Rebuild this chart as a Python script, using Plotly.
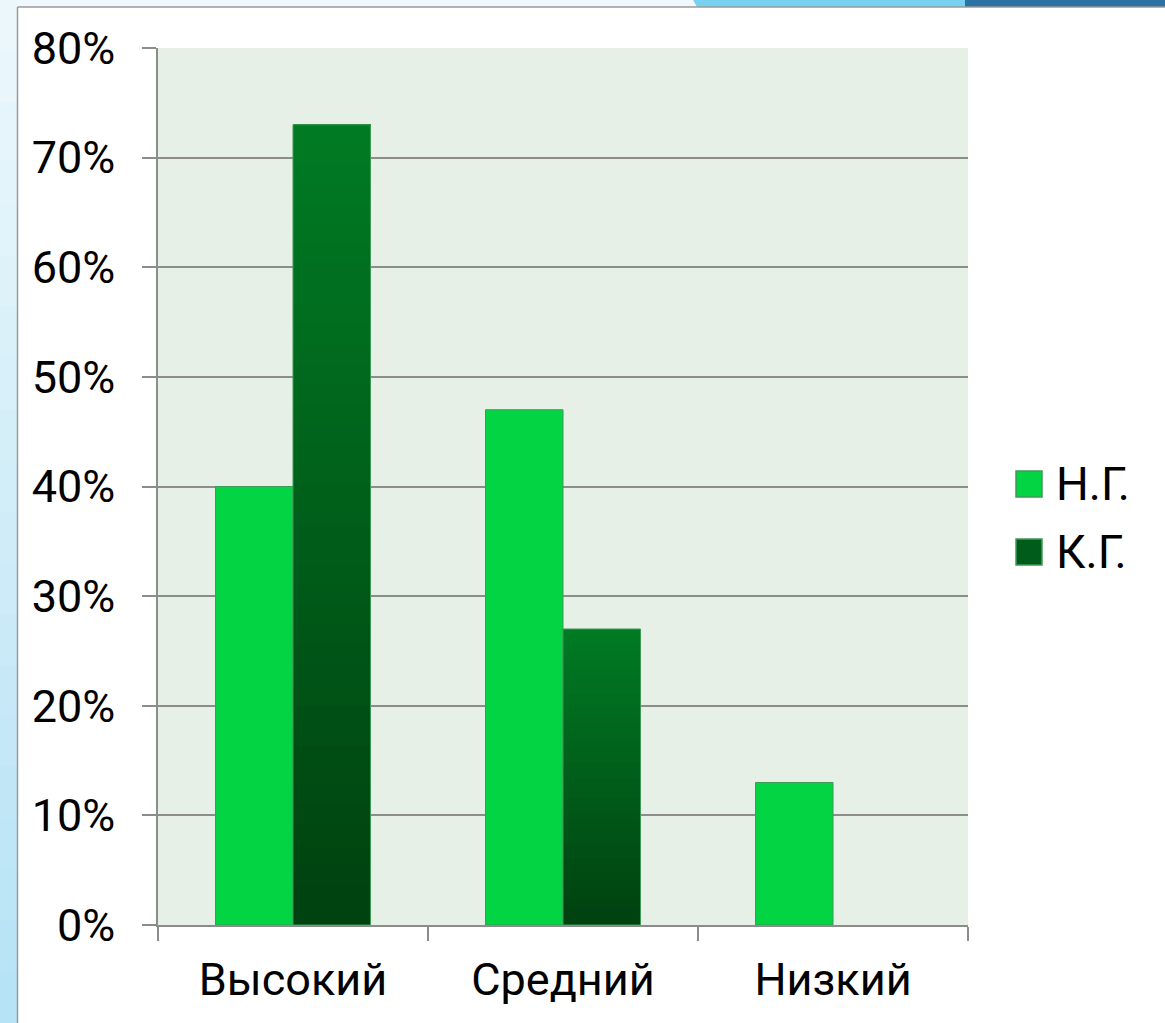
import plotly.graph_objects as go

categories = ["Высокий", "Средний", "Низкий"]
ng_values = [40, 47, 13]   # Н.Г.
kg_values = [73, 27, 0]    # К.Г.
series_names = ["Н.Г.", "К.Г."]
y_ticks = [0, 10, 20, 30, 40, 50, 60, 70, 80]

W, H = 1165, 1023
L, R, T, B = 158, 968, 48, 925  # plot area in pixels

def px(x):
    return (x - L) / (R - L)

def py(y):
    return (B - y) / (B - T)

FONT = "Roboto"
FS = 45
NG_COLOR = "#03d444"
KG_TOP = (0, 122, 35)
KG_BOT = (0, 66, 16)
EDGE = "#3f9a55"

fig = go.Figure()

fig.add_trace(go.Bar(
    x=categories, y=ng_values, name=series_names[0], offsetgroup="ng",
    marker=dict(color=NG_COLOR, line=dict(color=EDGE, width=1)),
    showlegend=False,
))

# К.Г. bars with a vertical gradient: overlapping layers, each from a fraction of
# the value up to the full value, drawn bottom layer first.
N = 40
for k in range(N):
    t = k / (N - 1)
    c = tuple(round(KG_BOT[i] + (KG_TOP[i] - KG_BOT[i]) * t) for i in range(3))
    col = "rgb(%d,%d,%d)" % c
    fig.add_trace(go.Bar(
        x=categories, y=[v * (N - k) / N for v in kg_values], base=[v * k / N for v in kg_values],
        offsetgroup="kg", marker=dict(color=col, line=dict(width=0)),
        showlegend=False, hoverinfo="skip",
    ))
fig.add_trace(go.Bar(
    x=categories, y=kg_values, name=series_names[1], offsetgroup="kg",
    marker=dict(color="rgba(0,0,0,0)",
                line=dict(color=EDGE, width=[1 if v > 0 else 0 for v in kg_values])),
    showlegend=False,
))

shapes = []
annotations = []
# left blue strip (gradient approximation)
NS = 20
for i in range(NS):
    t = i / (NS - 1)
    c1 = (236, 247, 252)
    c2 = (182, 227, 245)
    c = tuple(round(c1[j] + (c2[j] - c1[j]) * t) for j in range(3))
    y0 = i * H / NS
    y1 = (i + 1) * H / NS + 1
    shapes.append(dict(type="rect", xref="paper", yref="paper", x0=px(-2), x1=px(17),
                       y0=py(y0), y1=py(y1), fillcolor="rgb(%d,%d,%d)" % c,
                       line=dict(width=0), layer="below"))
# top strip
shapes.append(dict(type="rect", xref="paper", yref="paper", x0=px(17), x1=px(W + 2),
                   y0=py(-2), y1=py(7), fillcolor="#eef8fd", line=dict(width=0), layer="below"))
shapes.append(dict(type="path", xref="paper", yref="paper",
                   path="M %f,%f L %f,%f L %f,%f L %f,%f Z" % (
                       px(697), py(7), px(692), py(-2), px(966), py(-2), px(966), py(7)),
                   fillcolor="#79d1f1", line=dict(width=0), layer="below"))
shapes.append(dict(type="rect", xref="paper", yref="paper", x0=px(965), x1=px(W + 2),
                   y0=py(-2), y1=py(7), fillcolor="#2c72a5", line=dict(width=0), layer="below"))
# white box border
shapes.append(dict(type="line", xref="paper", yref="paper", x0=px(17.5), x1=px(17.5),
                   y0=py(7), y1=py(H + 2), line=dict(color="#9a9a9a", width=1.5)))
shapes.append(dict(type="line", xref="paper", yref="paper", x0=px(17.5), x1=px(W + 2),
                   y0=py(7), y1=py(7), line=dict(color="#9a9a9a", width=1.5)))

# legend (drawn as swatches + text so the swatch size matches)
legend_colors = [NG_COLOR, "#005c1a"]
legend_y = [484, 552]
for name, col, yc in zip(series_names, legend_colors, legend_y):
    shapes.append(dict(type="rect", xref="paper", yref="paper",
                       x0=px(1016), x1=px(1042), y0=py(yc - 13), y1=py(yc + 13),
                       fillcolor=col, line=dict(color=EDGE, width=1.5)))
    annotations.append(dict(xref="paper", yref="paper", x=px(1054), y=py(yc),
                            xanchor="left", yanchor="middle", showarrow=False,
                            text=name, font=dict(family=FONT, size=FS + 1, color="black")))

fig.update_layout(
    width=W, height=H,
    margin=dict(l=L, r=W - R, t=T, b=H - B, pad=0),
    paper_bgcolor="white",
    plot_bgcolor="#e6f0e6",
    barmode="group",
    bargap=0.426,
    bargroupgap=0,
    font=dict(family=FONT, size=FS, color="black"),
    showlegend=False,
    shapes=shapes,
    annotations=annotations,
    xaxis=dict(
        type="category", showline=True, linecolor="#8c8c8c", linewidth=1.5,
        ticks="outside", ticklen=14, tickcolor="#8c8c8c", tickwidth=1.5,
        tickson="boundaries", showgrid=False, ticklabelstandoff=14,
        tickfont=dict(family=FONT, size=FS, color="black"),
    ),
    yaxis=dict(
        range=[0, 80], tickvals=y_ticks, ticktext=["%d%%" % v for v in y_ticks],
        showline=True, linecolor="#8c8c8c", linewidth=1.5,
        ticks="outside", ticklen=14, tickcolor="#8c8c8c", tickwidth=1.5,
        showgrid=True, gridcolor="#8c8c8c", gridwidth=1.5, zeroline=False,
        ticklabelstandoff=18,
        tickfont=dict(family=FONT, size=FS, color="black"),
    ),
    hovermode=False,
)

fig.write_html("out.html", config={"displayModeBar": False},
               post_script="document.body.style.margin='0';document.body.style.overflow='hidden';")
